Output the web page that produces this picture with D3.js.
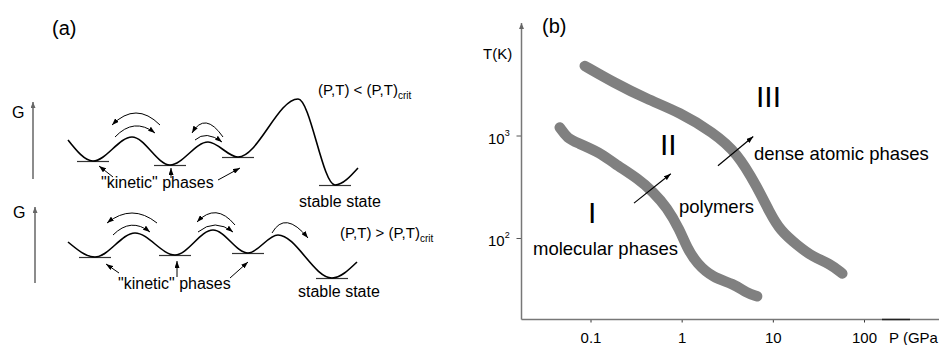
<!DOCTYPE html>
<html><head><meta charset="utf-8">
<script src="https://cdn.jsdelivr.net/npm/d3@7/dist/d3.min.js"></script>
<style>
html,body{margin:0;padding:0;background:#fff;}
svg text{font-family:"Liberation Sans",Arial,Helvetica,sans-serif;fill:#000;}
</style></head>
<body>
<svg id="c" width="939" height="345"></svg>
<script>
// ---------- Panel (a): schematic free-energy landscapes ----------
const topX = [0, 2.5, 6.4, 10.2, 14.0, 17.0, 23.0, 26.7, 29.0];
const topG = [5.0, 2.9, 5.3, 2.5, 4.8, 3.3, 9.1, 0.5, 2.2];
const botX = [0, 2.7, 6.7, 10.7, 14.5, 18.0, 21.0, 26.4, 28.9];
const botG = [4.8, 3.3, 5.7, 3.5, 6.0, 3.7, 5.5, 1.2, 2.8];
const minimaIdx = [1, 3, 5, 7];
// curved hop arrows: [x0,g0, cx,cg, x1,g1]
const topHops = [[9.2,6.5, 6.8,8.9, 4.4,6.5],[4.7,5.3, 6.6,7.3, 8.7,5.7],[15.5,5.3, 13.7,7.9, 12.4,5.7],[12.7,5.0, 13.8,6.0, 15.4,4.8]];
const botHops = [[8.9,6.7, 6.4,8.7, 3.9,6.7],[4.5,5.5, 6.3,7.3, 8.2,5.8],[16.7,6.5, 14.8,8.8, 12.9,6.8],[13.0,5.8, 14.7,7.2, 16.5,5.8],[20.4,5.7, 21.7,8.0, 24.0,5.2]];
// pointer arrows from "kinetic" label: [x0,g0,x1,g1]
const topPointers = [[4.5,1.3, 3.1,2.4],[10.3,1.2, 10.3,2.2],[15.0,1.0, 17.2,2.2]];
const botPointers = [[5.1,1.7, 3.8,2.6],[10.9,1.3, 10.9,2.9],[16.2,1.2, 18.0,2.8]];

// ---------- Panel (b): P-T phase diagram ----------
const curve1P = [0.046, 0.056, 0.071, 0.127, 0.176, 0.348, 0.484, 0.689, 0.957, 1.14, 1.47, 2.21, 3.66, 5.22, 6.72];
const curve1T = [1197, 935, 853, 681, 543, 369, 281, 200, 119, 81, 56, 41, 36, 29, 27];
const curve2P = [0.0866, 0.176, 0.416, 0.957, 2.21, 4.05, 6.72, 9.33, 12.0, 18.5, 27.7, 42.7, 57.8];
const curve2T = [4770, 3320, 2260, 1683, 1070, 681, 315, 175, 119, 85, 65, 56, 45];
const xTickValues = [0.1, 1, 10, 100];
const xTickLabels = ["0.1", "1", "10", "100"];
const yTickValues = [100, 1000];
const yTickBase = ["10", "10"];
const yTickExp = ["2", "3"];
// region arrows [P0,T0,P1,T1]
const regionArrows = [[0.30, 219, 0.76, 423], [2.5, 507, 6.1, 977]];

const svg = d3.select("#c");
const defs = svg.append("defs");
function marker(id, color, w, h) {
  defs.append("marker").attr("id", id).attr("viewBox", `0 0 ${w} ${h}`)
    .attr("refX", w).attr("refY", h/2).attr("markerWidth", w).attr("markerHeight", h)
    .attr("markerUnits", "userSpaceOnUse").attr("orient", "auto")
    .append("path").attr("d", `M0,0L${w},${h/2}L0,${h}Z`).attr("fill", color);
}
marker("ah", "#000", 7, 5);
marker("ahg", "#666", 6, 5);

const xA = d3.scaleLinear().domain([0, 29]).range([68, 358]);
const yTop = d3.scaleLinear().domain([0, 10]).range([190, 90]);
const yBot = d3.scaleLinear().domain([0, 10]).range([290, 190]);

function drawLandscape(xs, gs, ys, hops, pointers) {
  const pts = xs.map((x, i) => [x, gs[i]]);
  minimaIdx.forEach(i => {
    svg.append("line").attr("x1", xA(xs[i] - 1.6)).attr("x2", xA(xs[i] + 1.6))
      .attr("y1", ys(gs[i]) + 0.5).attr("y2", ys(gs[i]) + 0.5)
      .attr("stroke", "#333").attr("stroke-width", 1.2);
  });
  svg.append("path").datum(pts)
    .attr("d", d3.line().x(d => xA(d[0])).y(d => ys(d[1])).curve(d3.curveMonotoneX))
    .attr("fill", "none").attr("stroke", "#000").attr("stroke-width", 1.6);
  hops.forEach(h => {
    svg.append("path")
      .attr("d", `M${xA(h[0])},${ys(h[1])}Q${xA(h[2])},${ys(h[3])} ${xA(h[4])},${ys(h[5])}`)
      .attr("fill", "none").attr("stroke", "#000").attr("stroke-width", 1)
      .attr("marker-end", "url(#ah)");
  });
  pointers.forEach(p => {
    svg.append("line").attr("x1", xA(p[0])).attr("y1", ys(p[1]))
      .attr("x2", xA(p[2])).attr("y2", ys(p[3]))
      .attr("stroke", "#000").attr("stroke-width", 1).attr("marker-end", "url(#ah)");
  });
}
drawLandscape(topX, topG, yTop, topHops, topPointers);
drawLandscape(botX, botG, yBot, botHops, botPointers);

[[33, 179, 102, 118, 12], [35, 283, 207, 218, 13]].forEach(a => {
  svg.append("line").attr("x1", a[0]).attr("x2", a[0]).attr("y1", a[1]).attr("y2", a[2])
    .attr("stroke", "#666").attr("stroke-width", 1.5).attr("marker-end", "url(#ahg)");
  svg.append("text").attr("x", a[4]).attr("y", a[3]).attr("font-size", 16).text("G");
});

function txt(x, y, s, size, anchor) {
  return svg.append("text").attr("x", x).attr("y", y).attr("font-size", size)
    .attr("text-anchor", anchor || "start").text(s);
}
txt(52, 35, "(a)", 20);
txt(101, 188, "\"kinetic\" phases", 16);
txt(118, 289, "\"kinetic\" phases", 16);
txt(299, 207, "stable state", 16);
txt(298, 297, "stable state", 16);
function crit(x, y, sym) {
  const t = svg.append("text").attr("x", x).attr("y", y).attr("font-size", 15);
  t.append("tspan").text(`(P,T) ${sym} (P,T)`);
  t.append("tspan").attr("dy", 4).attr("font-size", 10).text("crit");
}
crit(318, 95, "<");
crit(340, 238, ">");

// ---------- Panel (b) ----------
const xB = d3.scaleLog().domain([0.1, 100]).range([590.5, 864]);
const yB = d3.scaleLog().domain([100, 1000]).range([238, 135.5]);
const axisX0 = 521.5, axisY0 = 319.5;

const curveLine = d3.line().x(d => xB(d[0])).y(d => yB(d[1])).curve(d3.curveBasis);
[[curve1P, curve1T], [curve2P, curve2T]].forEach(c => {
  svg.append("path").datum(c[0].map((p, i) => [p, c[1][i]]))
    .attr("d", curveLine).attr("fill", "none").attr("stroke", "#808080")
    .attr("stroke-width", 10.5).attr("stroke-linecap", "round").attr("stroke-linejoin", "round");
});

const gx = svg.append("g").attr("transform", `translate(0,${axisY0})`)
  .call(d3.axisBottom(xB).tickValues(xTickValues).tickFormat((d, i) => xTickLabels[i]).tickSizeInner(3).tickSizeOuter(0).tickPadding(10));
gx.select(".domain").remove();
gx.selectAll(".tick line").attr("stroke", "#333");
gx.selectAll(".tick text").attr("font-size", 15).attr("font-family", "Liberation Sans, Arial, sans-serif").attr("fill", "#000");
svg.append("line").attr("x1", axisX0).attr("x2", 939).attr("y1", axisY0).attr("y2", axisY0)
  .attr("stroke", "#777").attr("stroke-width", 1.5);
svg.append("line").attr("x1", 882).attr("x2", 910).attr("y1", axisY0).attr("y2", axisY0)
  .attr("stroke", "#222").attr("stroke-width", 1.5);
txt(889, 343, "P (GPa", 15);

const gy = svg.append("g").attr("transform", `translate(${axisX0},0)`)
  .call(d3.axisLeft(yB).tickValues(yTickValues).tickFormat("").tickSizeInner(5).tickSizeOuter(0));
gy.select(".domain").remove();
gy.selectAll(".tick line").attr("stroke", "#555");
svg.append("line").attr("x1", axisX0).attr("x2", axisX0).attr("y1", axisY0).attr("y2", 23)
  .attr("stroke", "#777").attr("stroke-width", 1.5).attr("marker-end", "url(#ahg)");
yTickValues.forEach((v, i) => {
  const t = svg.append("text").attr("x", 488).attr("y", yB(v) + 8).attr("font-size", 15);
  t.append("tspan").text(yTickBase[i]);
  t.append("tspan").attr("dy", -8).attr("font-size", 9).text(yTickExp[i]);
});
txt(483, 59, "T(K)", 15);
txt(542, 33, "(b)", 20);

regionArrows.forEach(a => {
  svg.append("line").attr("x1", xB(a[0])).attr("y1", yB(a[1])).attr("x2", xB(a[2])).attr("y2", yB(a[3]))
    .attr("stroke", "#000").attr("stroke-width", 1.2).attr("marker-end", "url(#ah)");
});

txt(756, 107, "III", 30);
txt(660, 155, "II", 30);
txt(588, 223, "I", 30);
txt(754, 160, "dense atomic phases", 18.5);
txt(679, 213, "polymers", 18.5);
txt(533, 255, "molecular phases", 18.5);
</script>
</body></html>
